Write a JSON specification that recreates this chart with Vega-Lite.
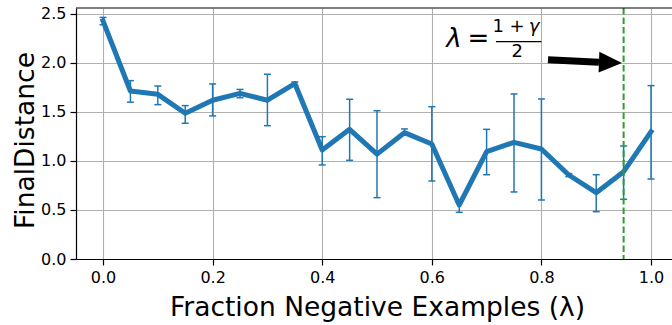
{
  "$schema": "https://vega.github.io/schema/vega-lite/v6.json",
  "width": 596,
  "height": 251,
  "autosize": "none",
  "padding": {"left": 76, "top": 8, "right": 0, "bottom": 66},
  "background": "white",
  "config": {
    "view": {"stroke": null},
    "font": "DejaVu Sans",
    "axis": {
      "labelFont": "DejaVu Sans",
      "titleFont": "DejaVu Sans",
      "labelFontSize": 16,
      "titleFontSize": 26.5,
      "titleFontWeight": "normal",
      "labelColor": "black",
      "titleColor": "black",
      "domainColor": "black",
      "domainWidth": 1.2,
      "tickColor": "black",
      "tickWidth": 1.2,
      "tickSize": 6,
      "gridColor": "#b0b0b0",
      "gridWidth": 1.1,
      "gridOpacity": 1
    }
  },
  "datasets": {
    "runs": [
      {"frac": 0.00, "dist": 2.430, "lo": 2.390, "hi": 2.465},
      {"frac": 0.05, "dist": 1.714, "lo": 1.600, "hi": 1.820},
      {"frac": 0.10, "dist": 1.680, "lo": 1.575, "hi": 1.765},
      {"frac": 0.15, "dist": 1.487, "lo": 1.385, "hi": 1.565},
      {"frac": 0.20, "dist": 1.620, "lo": 1.460, "hi": 1.786},
      {"frac": 0.25, "dist": 1.690, "lo": 1.646, "hi": 1.730},
      {"frac": 0.30, "dist": 1.620, "lo": 1.360, "hi": 1.885},
      {"frac": 0.35, "dist": 1.790, "lo": 1.775, "hi": 1.806},
      {"frac": 0.40, "dist": 1.112, "lo": 0.960, "hi": 1.248},
      {"frac": 0.45, "dist": 1.323, "lo": 1.007, "hi": 1.630},
      {"frac": 0.50, "dist": 1.070, "lo": 0.626, "hi": 1.513},
      {"frac": 0.55, "dist": 1.289, "lo": 1.265, "hi": 1.327},
      {"frac": 0.60, "dist": 1.173, "lo": 0.796, "hi": 1.554},
      {"frac": 0.65, "dist": 0.551, "lo": 0.476, "hi": 0.580},
      {"frac": 0.70, "dist": 1.095, "lo": 0.860, "hi": 1.323},
      {"frac": 0.75, "dist": 1.190, "lo": 0.684, "hi": 1.684},
      {"frac": 0.80, "dist": 1.122, "lo": 0.602, "hi": 1.633},
      {"frac": 0.85, "dist": 0.857, "lo": 0.840, "hi": 0.872},
      {"frac": 0.90, "dist": 0.677, "lo": 0.483, "hi": 0.860},
      {"frac": 0.95, "dist": 0.891, "lo": 0.609, "hi": 1.153},
      {"frac": 1.00, "dist": 1.299, "lo": 0.816, "hi": 1.769}
    ]
  },
  "layer": [
    {
      "data": {"name": "runs"},
      "mark": {"type": "rule", "color": "#1f77b4", "strokeWidth": 1.5},
      "encoding": {
        "x": {
          "field": "frac", "type": "quantitative",
          "scale": {"domain": [-0.0493, 1.0383], "nice": false, "zero": false},
          "axis": {
            "values": [0, 0.2, 0.4, 0.6, 0.8, 1.0],
            "format": ".1f",
            "grid": true,
            "labelPadding": 4,
            "title": "Fraction Negative Examples (λ)",
            "titleX": 301,
            "titleY": 56,
            "titleBaseline": "alphabetic",
            "titleAlign": "center",
            "titleAnchor": null
          }
        },
        "y": {
          "field": "lo", "type": "quantitative",
          "scale": {"domain": [0, 2.561], "nice": false, "zero": false},
          "axis": {
            "values": [0, 0.5, 1.0, 1.5, 2.0, 2.5],
            "format": ".1f",
            "grid": true,
            "labelPadding": 4,
            "title": "FinalDistance",
            "titleX": -43,
            "titleY": 132,
            "titleBaseline": "alphabetic",
            "titleAlign": "center",
            "titleAngle": -90,
            "titleAnchor": null
          }
        },
        "y2": {"field": "hi"}
      }
    },
    {
      "data": {"name": "runs"},
      "mark": {"type": "line", "color": "#1f77b4", "strokeWidth": 5, "strokeJoin": "round", "strokeCap": "square"},
      "encoding": {
        "x": {"field": "frac", "type": "quantitative"},
        "y": {"field": "dist", "type": "quantitative"}
      }
    },
    {
      "data": {"name": "runs"},
      "mark": {"type": "tick", "orient": "horizontal", "color": "#1f77b4", "size": 7, "thickness": 1.5, "opacity": 1},
      "encoding": {
        "x": {"field": "frac", "type": "quantitative"},
        "y": {"field": "lo", "type": "quantitative"}
      }
    },
    {
      "data": {"name": "runs"},
      "mark": {"type": "tick", "orient": "horizontal", "color": "#1f77b4", "size": 7, "thickness": 1.5, "opacity": 1},
      "encoding": {
        "x": {"field": "frac", "type": "quantitative"},
        "y": {"field": "hi", "type": "quantitative"}
      }
    },
    {
      "data": {"values": [{"lambda": 0.95}]},
      "mark": {"type": "rule", "color": "#2ca02c", "strokeWidth": 2, "strokeDash": [6.5, 3]},
      "encoding": {
        "x": {"field": "lambda", "type": "quantitative"}
      }
    },
    {
      "data": {"values": [{"x": 0.812, "y": 2.033, "x2": 0.905, "y2": 2.008}]},
      "mark": {"type": "rule", "color": "black", "strokeWidth": 7},
      "encoding": {
        "x": {"field": "x", "type": "quantitative"},
        "y": {"field": "y", "type": "quantitative"},
        "x2": {"field": "x2"},
        "y2": {"field": "y2"}
      }
    },
    {
      "data": {"values": [{"x": 0.926, "y": 2.005}]},
      "mark": {"type": "point", "shape": "M-1,-0.9L1,0L-1,0.9Z", "size": 529, "filled": true, "color": "black", "opacity": 1, "angle": 2},
      "encoding": {
        "x": {"field": "x", "type": "quantitative"},
        "y": {"field": "y", "type": "quantitative"}
      }
    },
    {
      "data": {"values": [{"x": 0.6405, "y": 2.163, "t": "λ"}]},
      "mark": {"type": "text", "font": "DejaVu Sans", "fontSize": 26, "fontStyle": "italic", "align": "center", "baseline": "alphabetic", "color": "black"},
      "encoding": {
        "x": {"field": "x", "type": "quantitative"},
        "y": {"field": "y", "type": "quantitative"},
        "text": {"field": "t"}
      }
    },
    {
      "data": {"values": [{"x": 0.685, "y": 2.163, "t": "="}]},
      "mark": {"type": "text", "font": "DejaVu Sans", "fontSize": 26, "align": "center", "baseline": "alphabetic", "color": "black"},
      "encoding": {
        "x": {"field": "x", "type": "quantitative"},
        "y": {"field": "y", "type": "quantitative"},
        "text": {"field": "t"}
      }
    },
    {
      "data": {"values": [{"x": 0.740, "y": 2.319, "t": "1 +"}, {"x": 0.7559, "y": 2.058, "t": "2"}]},
      "mark": {"type": "text", "font": "DejaVu Sans", "fontSize": 18, "align": "center", "baseline": "alphabetic", "color": "black"},
      "encoding": {
        "x": {"field": "x", "type": "quantitative"},
        "y": {"field": "y", "type": "quantitative"},
        "text": {"field": "t"}
      }
    },
    {
      "data": {"values": [{"x": 0.7865, "y": 2.319, "t": "γ"}]},
      "mark": {"type": "text", "font": "DejaVu Sans", "fontSize": 18, "fontStyle": "italic", "align": "center", "baseline": "alphabetic", "color": "black"},
      "encoding": {
        "x": {"field": "x", "type": "quantitative"},
        "y": {"field": "y", "type": "quantitative"},
        "text": {"field": "t"}
      }
    },
    {
      "data": {"values": [{"x": 0.717, "x2": 0.800, "y": 2.217}]},
      "mark": {"type": "rule", "color": "black", "strokeWidth": 1.3},
      "encoding": {
        "x": {"field": "x", "type": "quantitative"},
        "x2": {"field": "x2"},
        "y": {"field": "y", "type": "quantitative"}
      }
    },
    {
      "data": {"values": [{"top": 2.561}]},
      "mark": {"type": "rule", "color": "black", "strokeWidth": 1.2},
      "encoding": {
        "y": {"field": "top", "type": "quantitative"}
      }
    }
  ]
}
